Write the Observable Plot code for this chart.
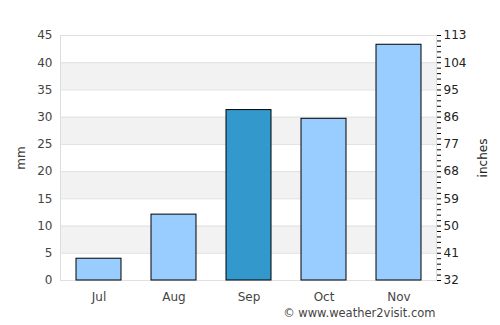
<!DOCTYPE html>
<html>
<head>
<meta charset="utf-8">
<script src="https://cdn.jsdelivr.net/npm/d3@7"></script>
<script src="https://cdn.jsdelivr.net/npm/@observablehq/plot@0.6"></script>
<style>
  body { margin: 0; background: #fff; }
  svg { font-family: "DejaVu Sans", sans-serif; }
</style>
</head>
<body>
<div id="chart"></div>
<script>
const months = ["Jul", "Aug", "Sep", "Oct", "Nov"];
const rainfall = [4.0, 12.1, 31.3, 29.7, 43.3];
const highlight = "Sep";
const leftTicks = [0, 5, 10, 15, 20, 25, 30, 35, 40, 45];
const rightLabels = ["32", "41", "50", "59", "68", "77", "86", "95", "104", "113"];
const minorTicks = d3.range(0, 46, 1);
const bands = [[5, 10], [15, 20], [25, 30], [35, 40]];

const data = months.map((m, i) => ({month: m, value: rainfall[i]}));
const bandData = bands.map(([a, b]) => ({y1: a, y2: b}));

const chart = Plot.plot({
  width: 500,
  height: 325,
  marginLeft: 60,
  marginRight: 64,
  marginTop: 35,
  marginBottom: 45,
  style: {fontFamily: "DejaVu Sans, sans-serif", fontSize: "12px", color: "#444", background: "#fff"},
  x: {domain: months, paddingInner: 0.4, paddingOuter: 0.2, label: null},
  y: {domain: [0, 45], label: null},
  marks: [
    Plot.rectY(bandData, {y1: "y1", y2: "y2", fill: "#f2f2f2"}),
    Plot.ruleY(leftTicks, {stroke: "#e0e0e0", strokeWidth: 1}),
    Plot.frame({anchor: "left", stroke: "#dddddd"}),
    Plot.frame({anchor: "right", stroke: "#dddddd"}),
    Plot.barY(data, {
      x: "month", y: "value",
      fill: d => d.month === highlight ? "#3399cc" : "#99ccff",
      stroke: "#000", strokeWidth: 1
    }),
    Plot.axisY({anchor: "left", ticks: leftTicks, tickSize: 0, tickPadding: 8,
      fill: "#444", fontSize: 12,
      label: "mm", labelAnchor: "center", labelArrow: "none", labelOffset: 44}),
    Plot.axisY({anchor: "right", ticks: minorTicks, tickSize: 4, text: null, stroke: "#000", label: null}),
    Plot.axisY({anchor: "right", ticks: leftTicks, tickSize: 0, tickPadding: 7,
      tickFormat: d => rightLabels[leftTicks.indexOf(d)], fill: "#222", fontSize: 12,
      textAnchor: "start",
      label: "inches", labelAnchor: "center", labelArrow: "none", labelOffset: 50}),
    Plot.axisX({tickSize: 0, tickPadding: 12, fill: "#444", fontSize: 12, label: null}),
    Plot.text(["© www.weather2visit.com"], {
      frameAnchor: "bottom-right", dy: 36, dx: -1, textAnchor: "end", fill: "#444", fontSize: 11.5
    })
  ]
});
document.getElementById("chart").appendChild(chart);
</script>
</body>
</html>
